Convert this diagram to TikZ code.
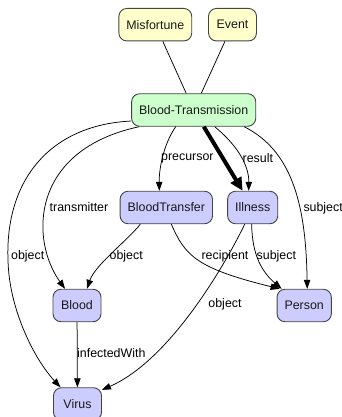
\documentclass[tikz,border=0pt]{standalone}
\usepackage{fontspec}
\setmainfont{Liberation Sans}
\usetikzlibrary{arrows.meta}
\definecolor{ylw}{HTML}{FFFFCC}
\definecolor{grn}{HTML}{CCFFCC}
\definecolor{blu}{HTML}{CCCCFF}
\definecolor{bord}{HTML}{444444}
\tikzset{
  box/.style={draw=bord, line width=0.9pt, rounded corners=8pt, minimum height=32.5pt,
    minimum width=48pt, inner xsep=7.5pt, inner ysep=0pt, text=black!90,
    font=\fontsize{12.4}{14}\selectfont},
  ybox/.style={box, fill=ylw},
  gbox/.style={box, fill=grn},
  bbox/.style={box, fill=blu},
  edge/.style={line width=0.75pt, -{Triangle[length=9pt,width=6.5pt]}},
  plain/.style={line width=0.75pt},
  thick edge/.style={line width=4pt, -{Triangle[length=13pt,width=12pt]}},
  lbl/.style={inner sep=0pt, font=\fontsize{12.4}{14}\selectfont, text=black}
}
\begin{document}
\begin{tikzpicture}[x=1pt, y=-1pt]
\useasboundingbox (0,0) rectangle (342,417);
\node[ybox] (mis) at (155.3,24.7) {Misfortune};
\node[ybox] (ev) at (232.5,24.7) {Event};
\node[gbox] (bt) at (193.7,110) {Blood-Transmission};
\node[bbox] (btr) at (166.3,207.5) {BloodTransfer};
\node[bbox] (ill) at (252.7,207.5) {Illness};
\node[bbox] (blood) at (77,305.5) {Blood};
\node[bbox] (person) at (304.2,305.5) {Person};
\node[bbox] (virus) at (77.5,404) {Virus};

\draw[plain] (mis) -- (bt);
\draw[plain] (ev) -- (bt);

\draw[thick edge] (bt) -- (ill);
\draw[edge] ([xshift=-18pt]bt.south) .. controls (163,145) and (159,170) .. ([xshift=-7pt]btr.north);
\draw[edge] ([xshift=21pt]bt.south) .. controls (237,145) and (249,165) .. ([xshift=-4pt]ill.north);
\draw[edge] ([xshift=-12pt]bt.south east) .. controls (290,150) and (306,200) .. ([xshift=3pt]person.north);
\draw[edge] ([xshift=8pt]bt.south west) .. controls (30,150) and (30,240) .. ([xshift=-12pt]blood.north);
\draw[edge] (bt.-170) .. controls (50,125) and (5,180) .. (8,260) .. controls (9,310) and (35,360) .. ([xshift=-17pt]virus.north);
\draw[edge] ([xshift=-26pt]btr.south) .. controls (128,240) and (95,265) .. ([xshift=10pt]blood.north);
\draw[edge] ([xshift=5pt]btr.south) .. controls (185,255) and (195,268) .. ([xshift=3pt]person.north west);
\draw[edge] ([xshift=-1pt]ill.south) .. controls (252,255) and (262,272) .. ([xshift=5pt]person.north west);
\draw[edge] ([xshift=-8pt]ill.south) .. controls (225,265) and (170,360) .. (virus.30);
\draw[edge] (blood) -- (virus);

\node[lbl, anchor=west] (l1) at (161,158.3) {precursor};
\node[lbl, anchor=west] (l2) at (242.5,158.3) {result};
\node[lbl, anchor=west] (l3) at (303.3,208) {subject};
\node[lbl, anchor=west] (l4) at (49.5,207.5) {transmitter};
\node[lbl, anchor=west] (l5) at (11,256) {object};
\node[lbl, anchor=west] (l6) at (109.5,256) {object};
\node[lbl] (l7) at (225,256) {recipient};
\node[lbl, anchor=west] (l8) at (256.5,256) {subject};
\node[lbl] (l9) at (225,304) {object};
\node[lbl, anchor=west] (l10) at (77,353) {infectedWith};
\end{tikzpicture}
\end{document}
